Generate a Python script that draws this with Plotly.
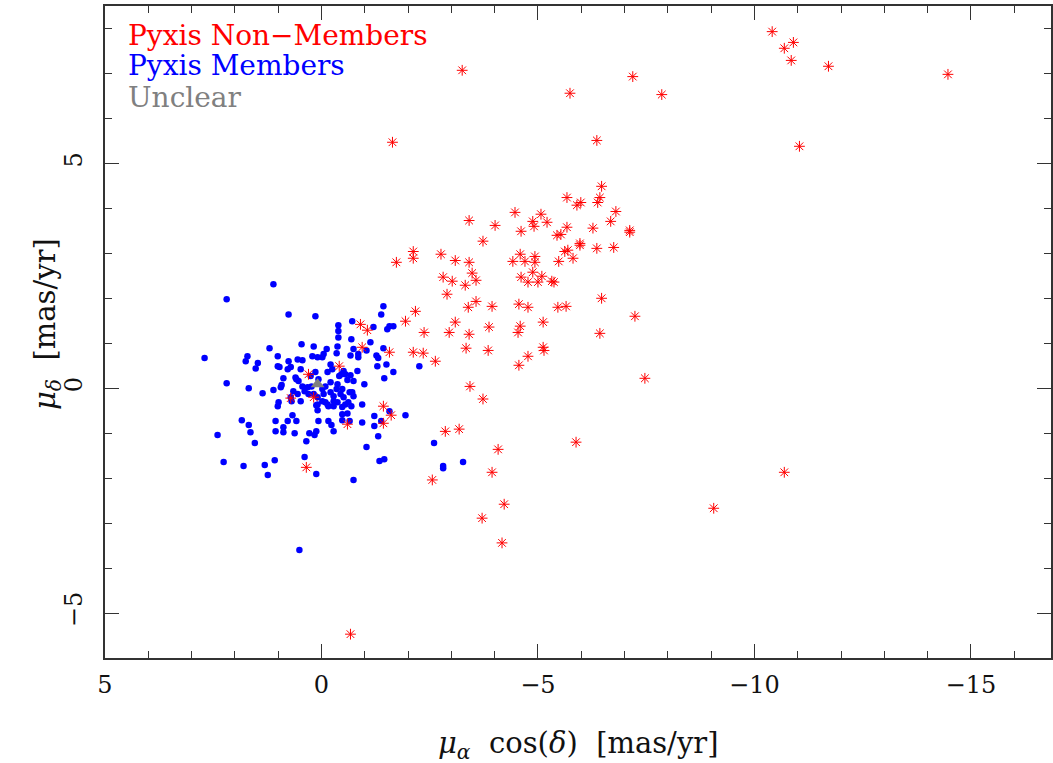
import plotly.graph_objects as go

# ---------------- data (proper motions, mas/yr) ----------------
members_pmra = [
    1.11, 2.19, 0.76, 0.14, -1.43, -1.38, 2.70, 2.19, 1.68, 1.36, 1.20, 1.75, 1.71, 1.52, 1.47,
    1.01, 1.01, 0.97, 1.11, 0.94, 0.92, 0.99, 1.01, 0.76, 0.46, 0.18, 2.40, 2.26, 1.84, 1.68,
    1.64, 1.54, 1.80, 1.31, 1.24, 1.08, 1.06, 1.06, 0.88, 0.88, 0.78, 0.67, 0.58, 0.62, 0.35,
    0.28, 0.39, 0.51, 0.07, -0.16, -0.23, -0.28, 0.12, 0.16, -0.48, -0.48, -0.60, -0.65, -0.94,
    -1.22, -1.22, -1.38, -1.57, -1.94, -1.31, -1.04, -1.34, -1.45, 0.12, -0.74, -2.60, -0.71,
    -0.39, -0.39, -0.39, -1.20, -1.52, -1.57, -1.66, -0.69, -1.13, -0.37, -0.74, -1.43, -0.12,
    -0.85, -0.85, -0.67, -0.35, -1.27, -1.31, -1.50, -1.29, -1.66, -1.45, -2.26, -0.05, -0.02,
    0.09, 0.21, -0.21, -0.25, -0.51, -0.46, -0.55, -0.67, -0.74, -0.83, -0.99, -0.60, -0.48,
    -0.37, -0.35, -0.21, -0.09, 0.07, -0.02, -0.05, -0.21, -0.28, -0.44, -0.51, -0.62, -0.65,
    -0.71, -0.94, -0.55, -0.48, -0.28, -0.37, -0.09, -0.02, 0.09, 0.55, 0.44, 0.48, 0.60, 0.78,
    0.71, 0.88, 0.58, 0.53, 0.44, 0.32, 0.23, 0.39, 0.30, 0.65, 0.55, 0.71, 0.69, 0.48, 0.18,
    0.09, 0.12, 0.09, -0.14, -0.16, -0.28, -0.74, -0.69, 0.25, 0.14, -0.14, -0.41, -1.04,
    -2.81, -2.81, -3.27,
]
members_pmdec = [
    2.31, 1.98, 1.64, 1.60, 1.82, 1.64, 0.67, 0.11, 0.00, -0.11, 0.89, 0.60, 0.71, 0.44, 0.56,
    0.71, 0.49, 0.47, -0.04, 0.02, 0.07, -0.31, -0.40, 0.60, 0.98, 0.93, -1.04, -1.64, -0.71, -0.82,
    -0.98, -1.22, -1.73, -1.71, -1.93, -1.60, -0.73, -0.96, -0.87, -0.98, -0.73, -0.60, -0.73, -1.00, -1.18,
    -1.00, -1.53, -3.60, -0.73, -0.73, -0.82, -0.96, -0.96, -1.04, -0.58, -0.71, -0.56, -0.73, -0.76,
    -0.62, -0.84, -0.73, -0.51, -0.60, -1.07, -1.31, -1.62, -1.58, -1.91, -2.04, -1.22, 1.49,
    1.40, 1.27, 1.13, 1.36, 1.31, 1.38, 1.38, 1.09, 1.02, 0.93, 0.87, 0.89, 0.87,
    0.76, 0.69, 0.73, 0.78, 0.73, 0.67, 0.53, 0.49, 0.36, 0.22, 0.49, 0.76, 0.69,
    0.69, 0.71, 0.53, 0.42, 0.38, 0.31, 0.31, 0.29, 0.16, 0.38, 0.09, 0.18, -0.02,
    0.09, -0.02, 0.13, 0.04, 0.20, -0.02, -0.13, -0.09, -0.18, -0.13, -0.20, -0.31, -0.09,
    -0.09, -0.36, -0.36, -0.42, -0.29, -0.31, -0.31, -0.29, -0.36, 0.64, 0.62, 0.42, 0.24, 0.42,
    0.47, 0.22, 0.20, 0.16, 0.04, 0.02, 0.04, -0.07, -0.13, -0.07, -0.13, -0.20, -0.29, -0.29, -0.13,
    -0.20, -0.38, -0.49, -0.36, -0.40, -0.40, -0.18, -0.40, 0.27, 0.36, 0.36, 0.27, 0.84,
    -1.73, -1.78, -1.64,
]

nonmembers_pmra = [
    -10.41, -10.69, -10.90, -10.85, -11.71, -14.47, -7.86, -11.04, -3.25, -7.19, -5.74, -1.64,
    -6.36, -6.47, -6.43, -6.38, -5.67, -5.90, -5.99, -6.80, -4.47, -5.07, -4.88, -4.91, -5.21,
    -6.68, -3.41, -4.61, -4.01, -6.27, -5.67, -7.12, -7.12, -5.44, -5.53, -3.73, -5.97, -5.97,
    -6.36, -6.75, -5.62, -5.69, -5.81, -5.48, -2.12, -2.12, -1.73, -2.76, -3.09, -3.41, -4.59,
    -4.93, -4.93, -4.42, -4.70, -2.81, -3.02, -3.48, -3.57, -3.32, -4.61, -4.77, -5.00, -5.09,
    -4.88, -5.32, -5.37, -2.90, -3.57, -3.39, -3.94, -4.56, -4.77, -5.46, -5.65, -6.47, -7.24,
    -2.17, -1.94, -3.09, -3.87, -4.59, -5.12, -0.90, -1.06, -2.37, -2.95, -3.41, -4.54, -6.43,
    -0.94, -1.57, -2.12, -2.35, -2.63, -3.34, -3.85, -4.56, -4.77, -5.12, -5.14, -7.47, -3.43,
    -3.73, -2.86, -3.18, -4.08, -5.88, -3.94, -2.56, -10.69, -4.22, -3.71, -9.06, -4.17, -0.67,
    -0.41, 0.30, 0.18, 0.71, -1.43, -1.61, -1.43, -0.60, 0.35,
]
nonmembers_pmdec = [
    7.93, 7.56, 7.69, 7.29, 7.16, 6.98, 6.53, 5.38, 7.07, 6.93, 6.56, 5.47,
    5.51, 4.49, 4.24, 4.13, 4.24, 4.07, 4.13, 3.93, 3.91, 3.87, 3.71, 3.60, 3.69,
    3.71, 3.73, 3.49, 3.62, 3.56, 3.58, 3.51, 3.47, 3.40, 3.42, 3.27, 3.22, 3.18,
    3.11, 3.13, 3.04, 3.07, 2.89, 2.82, 3.04, 2.89, 2.80, 2.98, 2.84, 2.80, 2.98,
    2.93, 2.80, 2.82, 2.82, 2.47, 2.38, 2.56, 2.40, 2.29, 2.47, 2.36, 2.36, 2.49,
    2.58, 2.38, 2.36, 2.09, 1.93, 1.80, 1.82, 1.87, 1.80, 1.80, 1.82, 2.00, 1.60,
    1.71, 1.49, 1.47, 1.36, 1.38, 1.47, 1.42, 1.29, 1.24, 1.24, 1.20, 1.24, 1.22,
    0.91, 0.80, 0.80, 0.78, 0.60, 0.89, 0.84, 0.51, 0.71, 0.91, 0.84, 0.22, 0.04,
    -0.24, -0.96, -0.91, -1.36, -1.20, -1.87, -2.04, -1.87, -2.58, -2.89, -2.67, -3.44, -5.47,
    0.49, 0.31, -0.20, -0.22, -0.40, -0.60, -0.78, -0.80, -1.76,
]

unclear_pmra = [0.09]
unclear_pmdec = [0.09]

x_tickvals = [5, 0, -5, -10, -15]
x_ticktext = ["5", "0", "\u22125", "\u221210", "\u221215"]
y_tickvals = [-5, 0, 5]
y_ticktext = ["\u22125", "0", "5"]

legend_labels = ["Pyxis Non\u2212Members", "Pyxis Members", "Unclear"]
legend_colors = ["#ff0000", "#0000ff", "#808080"]

FONT = "DejaVu Serif"
SP = "\u00a0"

fig = go.Figure()
fig.add_trace(go.Scatter(
    x=members_pmra, y=members_pmdec, mode="markers",
    marker=dict(symbol="circle", size=6.5, color="#0000ff", line=dict(width=0)),
    hoverinfo="skip", showlegend=False))
fig.add_trace(go.Scatter(
    x=nonmembers_pmra, y=nonmembers_pmdec, mode="markers",
    marker=dict(symbol="asterisk-open", size=9, color="#ff0000",
                line=dict(width=1.0, color="#ff0000")),
    hoverinfo="skip", showlegend=False))
fig.add_trace(go.Scatter(
    x=unclear_pmra, y=unclear_pmdec, mode="markers",
    marker=dict(symbol="triangle-up", size=12, color="#808080", line=dict(width=0)),
    hoverinfo="skip", showlegend=False))

axis_common = dict(
    showline=True, linecolor="#333333", linewidth=1.5, mirror="allticks",
    ticks="inside", ticklen=14, tickwidth=1.2, tickcolor="#333333",
    showgrid=False, zeroline=False,
    tickfont=dict(family=FONT, size=24, color="#111111"),
    minor=dict(dtick=1, ticks="inside", ticklen=7, tickwidth=1.2,
               tickcolor="#333333", showgrid=False),
)

fig.update_xaxes(range=[5, -16.85], tickmode="array", tickvals=x_tickvals,
                 ticktext=x_ticktext, ticklabelstandoff=4, **axis_common)
fig.update_yaxes(range=[-6, 8.5], tickmode="array", tickvals=y_tickvals,
                 ticktext=y_ticktext, tickangle=-90, ticklabelstandoff=12, **axis_common)

legend_y = [0.954, 0.908, 0.859]
for lab, col, yy in zip(legend_labels, legend_colors, legend_y):
    fig.add_annotation(text=lab, xref="paper", yref="paper", x=0.022, y=yy,
                       xanchor="left", yanchor="middle", showarrow=False,
                       font=dict(family=FONT, size=28, color=col))

fig.add_annotation(text="<i>\u03bc</i><sub><i>\u03b1</i></sub>" + SP * 2 + "cos(<i>\u03b4</i>)" + SP * 2 + "[mas/yr]",
                   xref="paper", yref="paper", x=0.5, y=0, yshift=-87,
                   xanchor="center", yanchor="middle", showarrow=False,
                   font=dict(family=FONT, size=29, color="#111111"))
fig.add_annotation(text="<i>\u03bc</i><sub><i>\u03b4</i></sub>" + SP * 2 + "[mas/yr]",
                   xref="paper", yref="paper", x=0, y=0.5, xshift=-58, yshift=8,
                   xanchor="center", yanchor="middle", textangle=-90, showarrow=False,
                   font=dict(family=FONT, size=29, color="#111111"))

fig.update_layout(
    width=1053, height=763,
    margin=dict(l=105, r=0, t=6, b=105),
    paper_bgcolor="white", plot_bgcolor="white",
    showlegend=False,
)

fig.write_html("out.html")
